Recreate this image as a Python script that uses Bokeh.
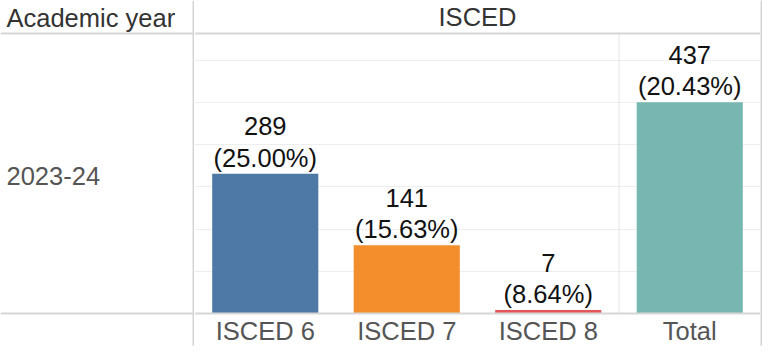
from bokeh.plotting import figure
from bokeh.models import ColumnDataSource, Range1d, FactorRange, FixedTicker, Span, Grid
from bokeh.layouts import row
from bokeh.embed import file_html
from bokeh.resources import INLINE
from bokeh.core.properties import value

# ---- data ----
year = "2023-24"
categories = ["ISCED 6", "ISCED 7", "ISCED 8", "Total"]
counts = [289, 141, 7, 437]
shares = [25.00, 15.63, 8.64, 20.43]
colors = ["#4e79a7", "#f28e2b", "#e15759", "#76b7b2"]
row_header = "Academic year"
col_header = "ISCED"

# ---- layout constants (pixels) ----
FONT = "Liberation Sans"
FS = "25.5px"
W, H = 762, 346
LEFT_W = 194
EDGE_W = 2
TOP, BOTTOM = 33, 33              # header band / category band heights
BORDER = "#d6d6d6"
GRID = "#eeeeee"
Y_MAX = 579                       # value at the header line
GRID_STEP = 87.3

panel_px = H - TOP - BOTTOM
u = Y_MAX / panel_px              # value units per pixel

labels = [f"{c}\n({s:.2f}%)" for c, s in zip(counts, shares)]
src = ColumnDataSource(dict(cat=categories, count=counts, label=labels, color=colors))

# ---- bar panel (frame covers whole canvas) ----
R = figure(width=W - LEFT_W - EDGE_W, height=H, title=None,
           x_range=FactorRange(*categories),
           y_range=Range1d(-BOTTOM * u, Y_MAX + TOP * u),
           x_axis_location=None, y_axis_location=None,
           output_backend="svg", toolbar_location=None, min_border=0)
R.outline_line_color = None
for g in R.grid:
    g.grid_line_color = None
R.add_layout(Grid(dimension=1, ticker=FixedTicker(ticks=[GRID_STEP * k for k in range(1, 7)]),
                  grid_line_color=GRID, grid_line_width=1))
# separator before the Total column
R.segment(x0=[3], y0=[0], x1=[3], y1=[Y_MAX], line_color="#e4e4e4", line_width=1)
R.add_layout(Span(location=0, dimension="width", line_color=BORDER, line_width=2))
R.add_layout(Span(location=Y_MAX, dimension="width", line_color=BORDER, line_width=2))

R.vbar(x="cat", top="count", width=0.75, fill_color="color", line_color=None, source=src)
R.text(x="cat", y="count", text="label", source=src,
       text_align="center", text_baseline="bottom",
       text_font=value(FONT), text_font_size=FS, text_color="#111111",
       text_line_height=1.12, y_offset=-2)

# column header and category labels
R.text(x=[2.0], y=[Y_MAX + (TOP - 16.5) * u], text=[col_header],
       text_align="center", text_baseline="middle",
       text_font=value(FONT), text_font_size=FS, text_color="#333333")
R.text(x=categories, y=[-17.5 * u] * len(categories), text=categories,
       text_align="center", text_baseline="middle",
       text_font=value(FONT), text_font_size=FS, text_color="#555555")

# ---- row header panel ----
L = figure(width=LEFT_W, height=H, title=None,
           x_range=Range1d(0, LEFT_W), y_range=Range1d(H, 0),
           x_axis_location=None, y_axis_location=None,
           output_backend="svg", toolbar_location=None, min_border=0)
L.outline_line_color = None
for g in L.grid:
    g.grid_line_color = None
L.text(x=[6], y=[17], text=[row_header], text_align="left", text_baseline="middle",
       text_font=value(FONT), text_font_size=FS, text_color="#333333")
L.text(x=[6], y=[175], text=[year], text_align="left", text_baseline="middle",
       text_font=value(FONT), text_font_size=FS, text_color="#555555")
L.segment(x0=[0, 0, LEFT_W - 1], y0=[TOP, H - BOTTOM, 0],
          x1=[LEFT_W, LEFT_W, LEFT_W - 1], y1=[TOP, H - BOTTOM, H],
          line_color=BORDER, line_width=2)

# ---- right edge ----
E = figure(width=EDGE_W, height=H, title=None, x_axis_location=None, y_axis_location=None,
           output_backend="svg", toolbar_location=None, min_border=0)
E.outline_line_color = None
for g in E.grid:
    g.grid_line_color = None
E.background_fill_color = BORDER
E.border_fill_color = BORDER

layout = row(L, R, E)
open("out.html", "w").write(file_html(layout, INLINE))
